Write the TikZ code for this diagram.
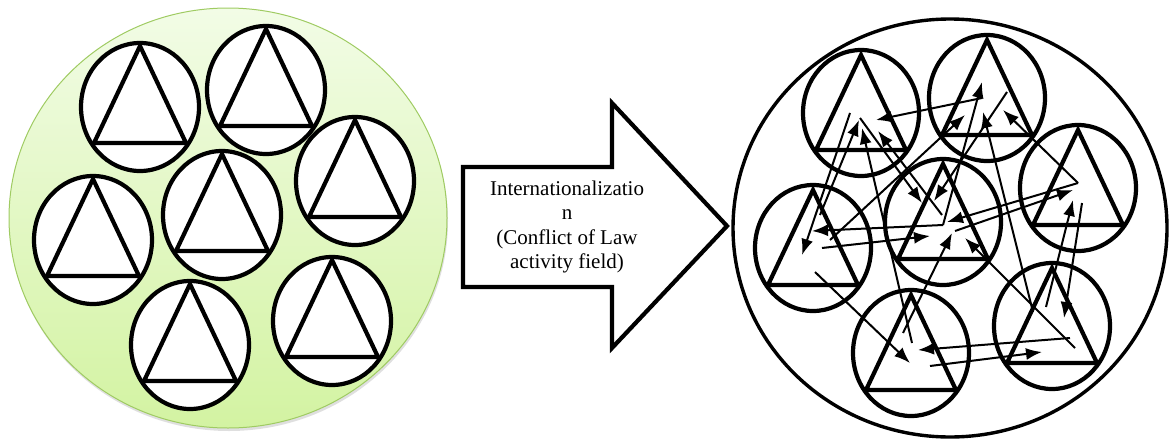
\documentclass[tikz,border=0pt]{standalone}
\usepackage{fontspec}
\setmainfont{Liberation Serif}
\usetikzlibrary{arrows.meta}
\definecolor{pale}{HTML}{F2FCE6}
\definecolor{lightg}{HTML}{D3F3A2}
\definecolor{edgeg}{HTML}{9FCB62}
\tikzset{
  ring/.style={line width=4.2pt},
  tri/.style={line width=4.2pt, line join=miter},
  flow/.style={line width=2pt, -{Latex[length=16pt,width=12pt]}},
  bigarrow/.style={line width=4.2pt, fill=white, line join=miter},
}
\newcommand{\lunit}[3]{% name, cx, cy (left, filled)
  \draw[ring, fill=white] (#2,#3) ellipse [x radius=59pt, y radius=64pt];
  \draw[tri] (#2,#3-61) -- (#2+46,#3+36) -- (#2-46,#3+36) -- cycle;
  \coordinate (#1) at (#2,#3);
}
\newcommand{\runit}[3]{% name, cx, cy (right, open)
  \draw[ring] (#2,#3) ellipse [x radius=58pt, y radius=63pt];
  \draw[tri] (#2,#3-58) -- (#2+45,#3+37) -- (#2-45,#3+37) -- cycle;
  \coordinate (#1) at (#2,#3);
}
\begin{document}
\begin{tikzpicture}[x=1pt,y=-1pt]
\useasboundingbox (0,0) rectangle (1169,439);
% left field
\fill[black!25, opacity=0.5] (229,221) ellipse [x radius=219pt, y radius=210pt];
\shade[top color=pale, bottom color=lightg, draw=edgeg, line width=1pt] (228,218) ellipse [x radius=219pt, y radius=210pt];
\lunit{L1}{140}{107}
\lunit{L2}{266}{90}
\lunit{L3}{355}{181}
\lunit{L4}{93}{240}
\lunit{L5}{222}{215}
\lunit{L6}{190}{345}
\lunit{L7}{332}{321}
% middle arrow
\draw[bigarrow] (463,167) -- (612,167) -- (612,103) -- (727,226) -- (612,348) -- (612,287) -- (463,287) -- cycle;
\node[align=center, font=\fontsize{21}{24.5}\selectfont, inner sep=0pt] (label) at (567,227)
  {Internationalizatio\\n\\(Conflict of Law\\activity field)};
% right field
\draw[line width=3.4pt] (950,228) ellipse [x radius=217pt, y radius=209pt];
\runit{A}{861}{113}
\runit{B}{987}{98}
\runit{C}{1078}{188}
\runit{D}{813}{248}
\runit{E}{943}{222}
\runit{F}{911}{353}
\runit{G}{1052}{326}
% arrow end points
\coordinate (s1) at (982,98);   \coordinate (e1) at (876,120);
\coordinate (s3) at (850,113);  \coordinate (e3) at (802,255);
\coordinate (s4) at (830,240);  \coordinate (e4) at (965,115);
\coordinate (s5) at (820,215);  \coordinate (e5) at (859,120);
\coordinate (s6) at (912,343);  \coordinate (e6) at (862,128);
\coordinate (s7) at (942,215);  \coordinate (e7) at (878,131);
\coordinate (s8) at (1007,92);  \coordinate (e8) at (934,201);
\coordinate (s9) at (860,118);  \coordinate (e9) at (922,203);
\coordinate (s10) at (943,225); \coordinate (e10) at (982,82);
\coordinate (s11) at (1033,312);\coordinate (e11) at (983,112);
\coordinate (s12) at (1078,183);\coordinate (e12) at (1003,110);
\coordinate (s13) at (1078,183);\coordinate (e13) at (947,222);
\coordinate (s14) at (955,231); \coordinate (e14) at (1073,190);
\coordinate (s15) at (1082,203);\coordinate (e15) at (1064,318);
\coordinate (s16) at (1046,307);\coordinate (e16) at (1073,200);
\coordinate (s17) at (1075,348);\coordinate (e17) at (965,238);
\coordinate (s18) at (1070,338);\coordinate (e18) at (918,350);
\coordinate (s19) at (930,366); \coordinate (e19) at (1042,352);
\coordinate (s20) at (815,272); \coordinate (e20) at (910,363);
\coordinate (s21) at (903,333); \coordinate (e21) at (952,233);
\coordinate (s22) at (943,225); \coordinate (e22) at (812,231);
\coordinate (s23) at (822,248); \coordinate (e23) at (930,236);
\foreach \i in {1,3,4,5,6,7,8,9,10,11,12,13,14,15,16,17,18,19,20,21,22,23}
  \draw[flow] (s\i) -- (e\i);
\end{tikzpicture}
\end{document}
